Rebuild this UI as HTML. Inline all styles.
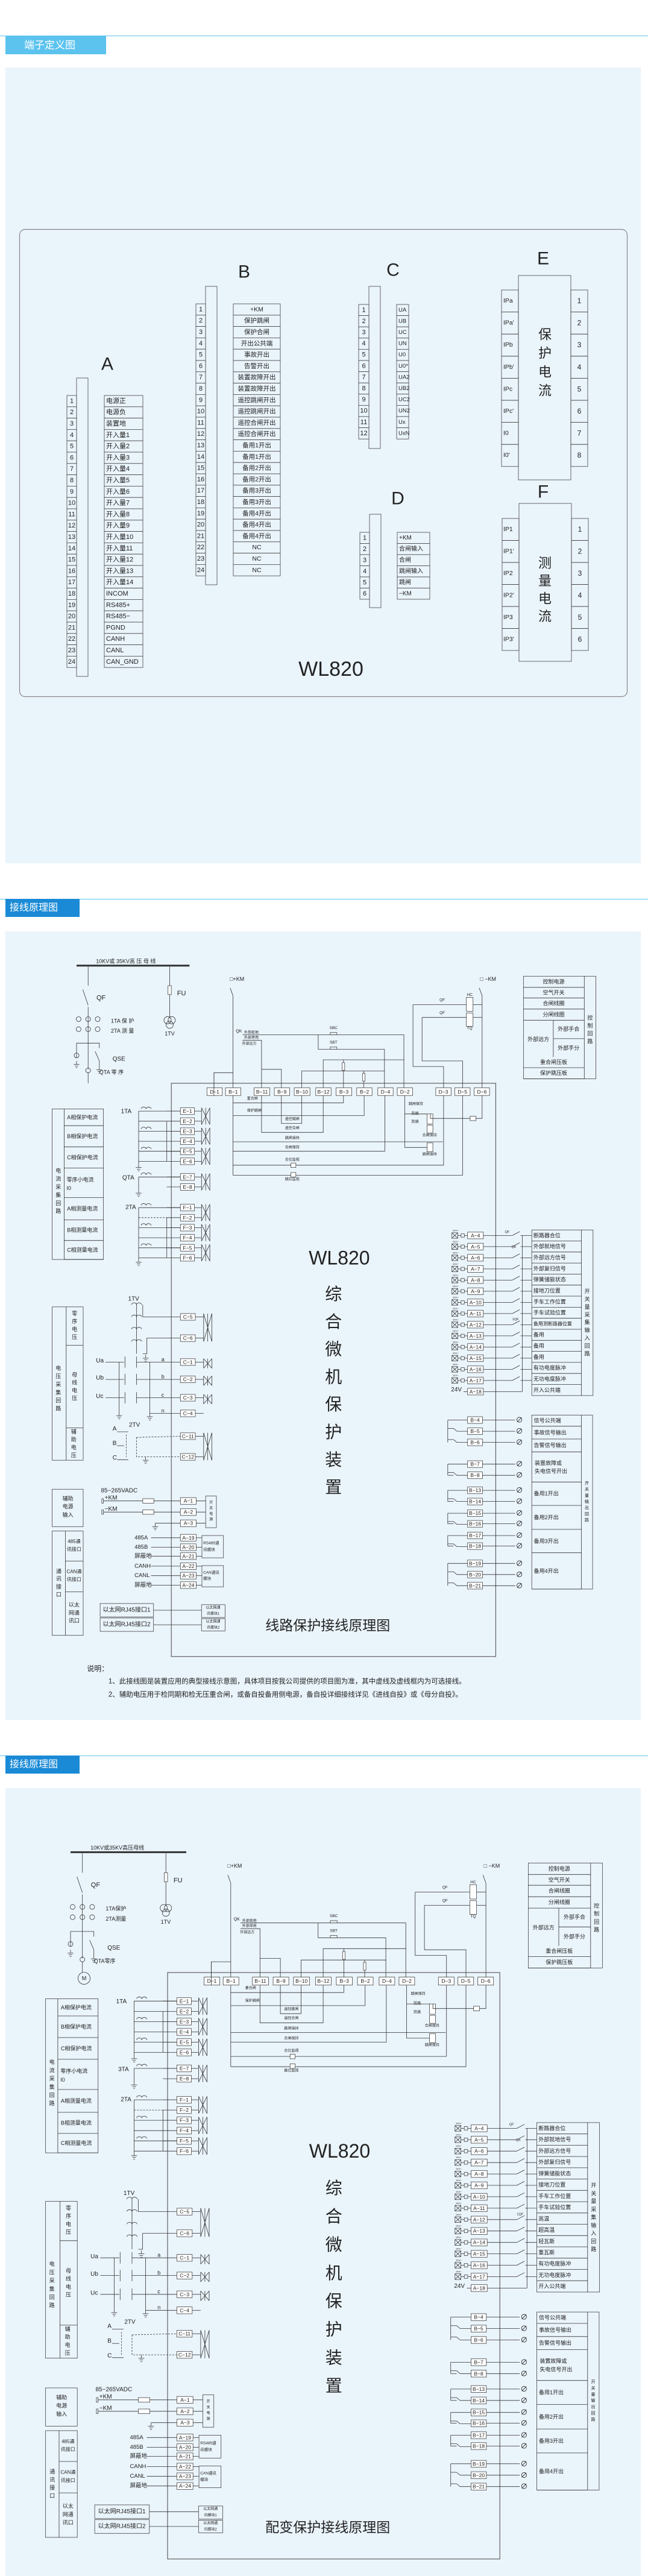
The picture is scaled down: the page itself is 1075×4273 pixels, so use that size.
<!DOCTYPE html>
<html><head><meta charset="utf-8"><style>
html,body{margin:0;padding:0;background:#fff}
svg{display:block}
text{font-family:"Liberation Sans","Noto Sans CJK SC",sans-serif;fill:#222}
</style></head><body>
<svg id="s" xmlns="http://www.w3.org/2000/svg" width="1075" height="4273" viewBox="0 0 1075 4273"></svg>
<script>
var out=[];var T=function(x,y){return [x,y];};
function f(v){return v.toFixed(1);}
function ln(x1,y1,x2,y2,w,d){var a=T(x1,y1),b=T(x2,y2);out.push('<line x1="'+f(a[0])+'" y1="'+f(a[1])+'" x2="'+f(b[0])+'" y2="'+f(b[1])+'" stroke="#333" stroke-width="'+(w||0.8)+'"'+(d?' stroke-dasharray="3,2"':'')+'/>');}
function pl(pts,w,d){var s=[];for(var i=0;i<pts.length;i+=2){var a=T(pts[i],pts[i+1]);s.push(f(a[0])+','+f(a[1]));}out.push('<polyline points="'+s.join(' ')+'" fill="none" stroke="#333" stroke-width="'+(w||0.8)+'"'+(d?' stroke-dasharray="3,2"':'')+'/>');}
function rc(x1,y1,x2,y2,fill,w){var a=T(x1,y1),b=T(x2,y2);out.push('<rect x="'+f(Math.min(a[0],b[0]))+'" y="'+f(Math.min(a[1],b[1]))+'" width="'+f(Math.abs(b[0]-a[0]))+'" height="'+f(Math.abs(b[1]-a[1]))+'" fill="'+(fill||'none')+'" stroke="#444" stroke-width="'+(w||0.8)+'"/>');}
function tx(x,y,s,sz,anc,col){var a=T(x,y);out.push('<text x="'+f(a[0])+'" y="'+f(a[1])+'" font-size="'+sz+'" text-anchor="'+(anc||'start')+'" dominant-baseline="central"'+(col?' style="fill:'+col+'"':'')+'>'+s+'</text>');}
function vt(x,y,s,sz,step){for(var i=0;i<s.length;i++)tx(x,y+i*step,s[i],sz,'middle');}
function ci(x,y,r){var a=T(x,y);out.push('<circle cx="'+f(a[0])+'" cy="'+f(a[1])+'" r="'+r+'" fill="none" stroke="#333" stroke-width="0.8"/>');}
function term(x1,x2,y,lab,h){h=h||12;rc(x1,y-h/2,x2,y+h/2,'#fff');tx((x1+x2)/2,y,lab,8.5,'middle');}
function bt(x,y1,y2){ln(x,y1-6,x,y2+6);ln(x+20,y1-6,x+20,y2+6);ln(x,y1-6,x+20,y2+6);ln(x,y2+6,x+20,y1-6);ln(x+10,y1-6,x+10,y2+6);}
function ct(x,y){var a=T(x-12,y),b=T(x,y),c=T(x+12,y);out.push('<path d="M'+f(a[0])+','+f(a[1])+' A4,3 0 0 1 '+f(b[0])+','+f(b[1])+' A4,3 0 0 1 '+f(c[0])+','+f(c[1])+'" fill="none" stroke="#333" stroke-width="0.8"/>');}
function gnd(x,y){ln(x,y,x,y+6);ln(x-7,y+6,x+7,y+6);ln(x-4,y+9,x+4,y+9);ln(x-2,y+12,x+2,y+12);}

/* ---------- headers & panels ---------- */
out.push('<line x1="0" y1="59.5" x2="1075" y2="59.5" stroke="#5cc3ee" stroke-width="1"/>');
out.push('<rect x="9" y="59" width="167" height="31" fill="#5cc3ee"/>');
out.push('<text x="40" y="75" font-size="17" dominant-baseline="central" style="fill:#fff">端子定义图</text>');
out.push('<rect x="9" y="112" width="1054" height="1320" fill="#eaf4fb"/>');
out.push('<line x1="0" y1="1491.5" x2="1075" y2="1491.5" stroke="#5cc3ee" stroke-width="1"/>');
out.push('<rect x="9" y="1491" width="123" height="30" fill="#1a8ad6"/>');
out.push('<text x="16" y="1506" font-size="16" dominant-baseline="central" style="fill:#fff">接线原理图</text>');
out.push('<rect x="9" y="1545" width="1054" height="1308" fill="#eaf4fb"/>');
out.push('<line x1="0" y1="2912.5" x2="1075" y2="2912.5" stroke="#5cc3ee" stroke-width="1"/>');
out.push('<rect x="9" y="2912" width="123" height="30" fill="#1a8ad6"/>');
out.push('<text x="16" y="2927" font-size="16" dominant-baseline="central" style="fill:#fff">接线原理图</text>');
out.push('<rect x="9" y="2966" width="1054" height="1307" fill="#eaf4fb"/>');

/* ---------- section 1 ---------- */
out.push('<rect x="32.5" y="380.5" width="1008" height="775" rx="9" fill="none" stroke="#888" stroke-width="1.2"/>');
function col(nx1,nx2,bx2,by1,by2,ry,rh,n,lx1,lx2,labs,lsz,lanc){
 rc(nx2,by1,bx2,by2,'#eaf4fb');
 for(var i=0;i<n;i++){var y=ry+i*rh;rc(nx1,y,nx2,y+rh,'#eaf4fb');tx((nx1+nx2)/2,y+rh/2,String(i+1),11,'middle');
  if(labs){rc(lx1,y,lx2,y+rh,'#eaf4fb');tx(lanc=='middle'?(lx1+lx2)/2:lx1+3,y+rh/2,labs[i],lsz,lanc);}}
}
var A=['电源正','电源负','装置地'];for(var i=1;i<=14;i++)A.push('开入量'+i);A=A.concat(['INCOM','RS485+','RS485−','PGND','CANH','CANL','CAN_GND']);
col(111,127,146,627,1122,656,18.8,24,173,237,A,11,'start');
var B=['+KM','保护跳闸','保护合闸','开出公共端','事故开出','告警开出','装置故障开出','装置故障开出','遥控跳闸开出','遥控跳闸开出','遥控合闸开出','遥控合闸开出','备用1开出','备用1开出','备用2开出','备用2开出','备用3开出','备用3开出','备用4开出','备用4开出','备用4开出','NC','NC','NC'];
col(325,341,360,475,970,504,18.8,24,387,465,B,10.5,'middle');
col(595,612,631,475,744,505,18.6,12,658,678,['UA','UB','UC','UN','U0','U0*','UA2','UB2','UC2','UN2','Ux','UxN'],9.5,'start');
col(597,613,632,853,1008,883,18.5,6,659,713,['+KM','合闸输入','合闸','跳闸输入','跳闸','−KM'],10,'start');
rc(860,457,947,796,'#eaf4fb');
var EL=['IPa',"IPa'",'IPb',"IPb'",'IPc',"IPc'",'I0',"I0'"];
for(var i=0;i<8;i++){var y=481+i*36.6;rc(832,y,860,y+36.6);rc(947,y,975,y+36.6);tx(835,y+18,EL[i],10.5);tx(961,y+18,String(i+1),12,'middle');}
vt(904,555,'保护电流',22,31);
rc(861,835,948,1097,'#eaf4fb');
var FL=['IP1',"IP1'",'IP2',"IP2'",'IP3',"IP3'"];
for(var i=0;i<6;i++){var y=860+i*36.5;rc(833,y,861,y+36.5);rc(948,y,976,y+36.5);tx(835,y+18,FL[i],10.5);tx(962,y+18,String(i+1),12,'middle');}
vt(904,934,'测量电流',22,29.5);
tx(178,604,'A',30,'middle');tx(405,451,'B',30,'middle');tx(652,448,'C',30,'middle');tx(660,827,'D',30,'middle');tx(901,429,'E',30,'middle');tx(901,816,'F',30,'middle');
tx(549,1110,'WL820',34,'middle');

/* ---------- wiring diagram ---------- */
function diagram(v){
 // bus & primary
 ln(185,164,458,164,3);
 tx(232,156,v==2?'10KV或 35KV高 压 母 线':'10KV或35KV高压母线',9);
 ln(213,166,213,200);ln(200,207,213,235);ln(213,238,213,350);
 [260,278].forEach(function(y){[190,213,236].forEach(function(x){ci(x,y,4);});});
 tx(233,222,'QF',11);tx(268,263,v==2?'1TA 保 护':'1TA保护',9);tx(268,281,v==2?'2TA 测 量':'2TA测量',9);
 pl([185,330,185,303,240,303,240,312]);ln(230,318,240,335);ln(240,335,240,345);gnd(240,345);ci(185,325,4);gnd(185,335);
 tx(272,332,'QSE',10);ci(213,352,4);tx(240,355,v==2?'QTA 零 序':'QTA零序',9);ln(213,356,213,375);
 if(v==3){ci(217,385,10);tx(217,385,'M',9,'middle');}
 ln(410,166,410,258);rc(406,200,414,216,'#fff');tx(428,214,'FU',11);ci(405,262,6);ci(415,262,6);ci(410,270,6);tx(398,286,'1TV',9);
 // KM
 tx(555,188,'□+KM',9);ln(556,204,563,218);ln(563,218,563,390);
 tx(1160,188,'□ −KM',9);ln(1158,204,1165,218);ln(1165,218,1165,390);
 // control loop top
 tx(570,282,'QK',7);tx(590,285,'外部就地',6);tx(590,294,'外部停用',6);tx(585,305,'外部远方',6);
 pl([586,288,976,288,976,383]);pl([586,298,632,298,632,383]);pl([632,350,680,350,680,383]);
 pl([769,288,769,314,929,314,929,383]);tx(806,276,'SBC',6.5,'middle');tx(806,302,'SBT',6.5,'middle');
 rc(798,284,814,288,'#eaf4fb');rc(798,310,814,314,'#eaf4fb');
 pl([781,383,781,333,977,333]);pl([729,383,729,353,930,353]);
 ln(830,333,830,383);rc(827,338,833,352,'#fff');ln(879,353,879,383);rc(876,357,882,371,'#fff');
 pl([517,383,517,356,563,356]);
 // breaker coils
 rc(1127,221,1143,246,'#fff');rc(1127,249,1143,273,'#fff');tx(1135,217,'HC',6.5,'middle');tx(1135,277,'TQ',6.5,'middle');
 ln(998,234,1127,234);ln(1020,257,1127,257);ln(1143,234,1165,234);ln(1143,257,1165,257);
 tx(1062,226,'QF',6.5);tx(1062,249,'QF',6.5);
 pl([998,234,998,345,1072,345,1072,383]);pl([1020,257,1020,335,1118,335,1118,383]);
 // main box
 rc(414,375,1198,1403,'none',1);
 var top=[['D−1',500,537],['B−1',545,582],['B−11',614,652],['B−9',663,700],['B−10',711,749],['B−12',763,800],['B−3',812,850],['B−2',862,899],['D−4',913,950],['D−2',960,997],['D−3',1053,1090],['D−5',1099,1136],['D−6',1146,1183]];
 top.forEach(function(t){term(t[1],t[2],390,t[0],14);});
 // internal control wiring
 ln(563,397,563,540);ln(517,397,517,356);
 ln(563,410,830,410);ln(830,397,830,410);tx(597,403,'重合闸',6);
 ln(563,433,880,433);ln(880,397,880,433);tx(597,425,'保护跳闸',6);
 pl([632,397,632,463,781,463,781,397]);pl([680,397,680,447,729,447,729,397]);
 tx(706,440,'遥控跳闸',6,'middle');tx(706,456,'遥控合闸',6,'middle');
 ln(563,480,1070,480);tx(706,474,'跳闸保持',6,'middle');ln(563,497,930,497);ln(930,397,930,497);tx(706,491,'合闸保持',6,'middle');
 ln(563,522,1072,522);ln(1072,397,1072,522);ln(563,540,1118,540);ln(1118,397,1118,540);tx(706,513,'合位监视',6,'middle');tx(706,548,'跳位监视',6,'middle');
 rc(703,518,715,526,'#fff');rc(703,535,715,543,'#fff');
 pl([978,397,978,490,1032,490]);rc(1032,430,1046,448,'#fff');rc(1032,450,1046,464,'#fff');rc(1032,482,1046,498,'#fff');
 tx(1005,413,'跳闸保持',6,'middle');tx(1003,430,'防跳',6,'middle');tx(1003,445,'防跳',6,'middle');tx(1038,469,'合闸保持',6,'middle');tx(1038,503,'跳闸保持',6,'middle');
 pl([1165,397,1165,438,1040,438,1040,430]);rc(1136,434,1150,442,'#fff');ln(978,430,1032,430);
 // current inputs
 var E=[['E−1',425],['E−2',443],['E−3',461],['E−4',479],['E−5',497],['E−6',515],['E−7',543],['E−8',561],['F−1',598],['F−2',616],['F−3',634],['F−4',652],['F−5',670],['F−6',688]];
 E.forEach(function(e){term(436,470,e[1],e[0]);ln(403,e[1],436,e[1]);ln(470,e[1],487,e[1]);});
 for(var i=0;i<14;i+=2)bt(487,E[i][1],E[i+1][1]);
 tx(305,426,'1TA',10,'middle');tx(310,545,v==2?'QTA':'3TA',10,'middle');tx(316,598,'2TA',10,'middle');
 [[425,443],[461,479],[497,515],[543,561],[598,616],[634,652],[670,688]].forEach(function(p,k){
  var cy=p[0]-4;ct(353,cy);ln(335,p[0],436,p[0]);ln(365,p[0],365,p[0]);ln(403,p[1],403,p[1]);});
 ln(335,425,335,520);gnd(335,520);ln(335,543,335,566);gnd(335,566);ln(335,598,335,690);gnd(335,690);
 ln(403,443,403,515);ln(403,561,403,561);ln(403,616,403,688);
 [443,479,515].forEach(function(y){ln(335,y,403,y);});
 ln(335,616,403,616,0.8,1);ln(335,652,403,652);ln(335,688,403,688);
 // voltage
 tx(323,762,'1TV',10,'middle');
 var C=[['C−5',794],['C−6',832],['C−1',875],['C−2',906],['C−3',939],['C−4',967],['C−11',1008],['C−12',1045]];
 C.forEach(function(c){term(436,472,c[1],c[0]);ln(472,c[1],492,c[1]);});
 bt(492,794,832);bt(492,875,880);bt(492,906,911);bt(492,939,944);bt(492,1008,1045);
 for(var y=772;y<860;y+=22){ct(330,y);}
 pl([345,772,345,794,436,794]);pl([345,860,355,860,355,832,436,832]);gnd(352,862);
 ln(330,770,330,860);
 [['Ua',875],['Ub',906],['Uc',939]].forEach(function(u){tx(232,u[1]-2,u[0],10);ln(255,u[1],300,u[1]);ln(302,u[1]-10,302,u[1]+10);ln(330,u[1]-10,330,u[1]+10);ln(330,u[1],436,u[1]);});
 tx(390,870,'a',9);tx(390,901,'b',9);tx(390,934,'c',9);tx(390,962,'n',9);ln(362,967,436,967);ln(362,875,362,967);gnd(362,967);ln(288,875,288,965);gnd(288,965);
 tx(325,988,'2TV',10,'middle');tx(272,995,'A',10);tx(272,1021,'B',10);tx(272,1047,'C',10);
 ln(283,1000,310,1000);ln(283,1025,300,1025);ln(283,1050,310,1050);ln(305,1005,305,1045,0.8,1);
 pl([330,1010,436,1008],0.8,1);pl([330,1010,330,1045,436,1045],0.8,1);gnd(352,1045);
 // aux power
 tx(244,1106,'85−265VADC',10);tx(253,1119,'+KM',10);tx(253,1139,'−KM',10);
 rc(246,1120,250,1128);rc(246,1140,250,1148);
 ln(250,1124,436,1124);rc(345,1120,372,1128,'#fff');ln(250,1144,436,1144);rc(345,1140,372,1148,'#fff');
 ln(375,1164,436,1164);gnd(375,1164);
 [['A−1',1124],['A−2',1144],['A−3',1164]].forEach(function(a){term(436,474,a[1],a[0]);ln(474,a[1],497,a[1]);});
 rc(497,1115,523,1172);vt(510,1128,'开关电源',6,10);
 [['485A',1190,'A−19'],['485B',1207,'A−20'],['屏蔽地',1223,'A−21'],['CANH',1241,'A−22'],['CANL',1258,'A−23'],['屏蔽地',1275,'A−24']].forEach(function(a){tx(325,a[1],a[0],9.5);ln(365,a[1],436,a[1]);term(436,474,a[1],a[2]);ln(474,a[1],488,a[1]);});
 rc(488,1186,540,1226);tx(491,1200,'RS485通',6.5);tx(491,1212,'讯模块',6.5);
 rc(488,1240,540,1278);tx(491,1253,'CAN通讯',6.5);tx(491,1264,'模块',6.5);
 rc(242,1308,371,1332);tx(306,1320,'以太网RJ45接口1',10,'middle');rc(242,1334,371,1358);tx(306,1346,'以太网RJ45接口2',10,'middle');
 ln(371,1320,487,1320);ln(371,1346,487,1346);
 rc(487,1310,544,1333);tx(515,1316,'以太网通',6,'middle');tx(515,1327,'讯模块1',6,'middle');
 rc(487,1335,544,1357);tx(515,1341,'以太网通',6,'middle');tx(515,1352,'讯模块2',6,'middle');
 // left group boxes
 rc(126,421,250,691);ln(155,421,155,691);
 var cur=[['A相保护电流',421,451],['B相保护电流',451,489],['C相保护电流',489,527],['零序小电流',527,580],['A相测量电流',580,620],['B相测量电流',620,657],['C相测量电流',657,691]];
 cur.forEach(function(c,k){ln(155,c[2],250,c[2]);if(k==3){tx(161,548,c[0],9);tx(161,563,'I0',9);}else tx(162,(c[1]+c[2])/2,c[0],9);});
 vt(141,532,'电流采集回路',9,14.5);
 rc(126,776,201,1051);ln(160,776,160,1051);ln(160,845,201,845);ln(160,993,201,993);
 vt(141,886,'电压采集回路',9,14.5);vt(180,788,'零序电压',9,14);vt(180,898,'母线电压',9,14);vt(178,1000,'辅助电压',9,14);
 rc(126,1103,201,1170);tx(164,1120,'辅助',9,'middle');tx(164,1134,'电源',9,'middle');tx(164,1149,'输入',9,'middle');
 rc(126,1178,201,1365);ln(158,1178,158,1365);ln(158,1232,201,1232);ln(158,1287,201,1287);
 vt(142,1250,'通讯接口',9,14);tx(179,1197,'485通',8,'middle');tx(179,1211,'讯接口',8,'middle');tx(179,1251,'CAN通',8,'middle');tx(179,1265,'讯接口',8,'middle');
 tx(179,1310,'以太',9,'middle');tx(179,1325,'网通',9,'middle');tx(179,1339,'讯口',9,'middle');
 // right inputs
 for(var i=0;i<15;i++){var y=648+i*20;term(1130,1168,y,'A−'+(i+4));
  if(i<14){rc(1092,y-5,1106,y+5);ln(1092,y-5,1106,y+5);ln(1092,y+5,1106,y-5);tx(1094,y-9,'24V+',4);rc(1114,y-3,1122,y+3);ln(1106,y,1114,y);ln(1122,y,1130,y);
   ln(1168,y,1238,y);ln(1238,y,1256,y-7);ln(1258,y,1285,y);}
  else{tx(1090,y-3,'24V',10);ln(1120,y,1130,y);ln(1168,y,1262,y);}}
 ln(1262,648,1262,928);tx(1220,642,'QF',5.5);tx(1236,669,'QK',5.5);tx(1238,799,'1QF',5.5);
 rc(1285,638,1433,935);ln(1405,638,1405,935);
 var IN=v==2?['断路器合位','外部就地信号','外部远方信号','外部复归信号','弹簧储能状态','接地刀位置','手车工作位置','手车试验位置','备用测断路器位置','备用','备用','备用','有功电度脉冲','无功电度脉冲','开入公共端']:['断路器合位','外部就地信号','外部远方信号','外部复归信号','弹簧储能状态','接地刀位置','手车工作位置','手车试验位置','高温','超高温','轻瓦斯','重瓦斯','有功电度脉冲','无功电度脉冲','开入公共端'];
 for(var i=0;i<15;i++){var y=638+i*19.8;if(i)ln(1285,y,1405,y);tx(1289,y+10,IN[i],i==8&&v==2?8:9);}
 vt(1419,748,'开关量采集输入回路',9,14);
 // outputs
 var O=[['B−4',979],['B−5',999],['B−6',1019],['B−7',1058],['B−8',1078],['B−13',1105],['B−14',1125],['B−15',1146],['B−16',1165],['B−17',1186],['B−18',1205],['B−19',1236],['B−20',1256],['B−21',1276]];
 O.forEach(function(o){term(1130,1166,o[1],o[0]);ln(1166,o[1],1245,o[1]);tx(1255,o[1],'∅',12,'middle');});
 [[979,1019],[1058,1078],[1105,1125],[1146,1165],[1186,1205],[1236,1276]].forEach(function(g){
  ln(1082,g[0],1082,g[1]);ln(1082,g[0],1130,g[0]);
  for(var y=g[0]+20;y<=g[1]+1;y+=20){ln(1082,y-5,1096,y-5);ln(1096,y-5,1104,y);ln(1104,y,1130,y);}
  if(g[1]-g[0]<21){ln(1082,g[1],1096,g[1]);}});
 rc(1285,970,1432,1282);ln(1405,970,1405,1282);
 [[970,990,'信号公共端'],[990,1013,'事故信号输出'],[1013,1036,'告警信号输出'],[1036,1090,''],[1090,1132,'备用1开出'],[1132,1175,'备用2开出'],[1175,1217,'备用3开出'],[1217,1282,'备用4开出']].forEach(function(r){ln(1285,r[1],1405,r[1]);if(r[2])tx(1290,(r[0]+r[1])/2,r[2],9);});
 tx(1292,1056,'装置故障或',9);tx(1292,1071,'失电信号开出',9);
 vt(1418,1093,'开关量输出回路',7,11);
 // control table
 rc(1265,183,1440,367);ln(1412,183,1412,367);
 [[183,203,'控制电源'],[203,222,'空气开关'],[222,242,'合闸线圈'],[242,262,'分闸线圈'],[328,347,'重合闸压板'],[347,367,'保护跳压板']].forEach(function(r){ln(1265,r[1],1412,r[1]);tx(1338,(r[0]+r[1])/2,r[2],9,'middle');});
 ln(1337,262,1337,328);ln(1337,295,1412,295);tx(1301,296,'外部远方',9,'middle');tx(1374,278,'外部手合',9,'middle');tx(1374,312,'外部手分',9,'middle');
 vt(1426,258,'控制回路',9,14);
 // centre texts
 tx(820,688,'WL820',32,'middle');
 vt(806,753,'综合微机保护装置',28,49.5);
 tx(792,1347,v==2?'线路保护接线原理图':'配变保护接线原理图',23,'middle');
 if(v==2){tx(210,1425,'说明：',12);
  tx(262,1448,'1、此接线图是装置应用的典型接线示意图，具体项目按我公司提供的项目图为准，其中虚线及虚线框内为可选接线。',11.5);
  tx(262,1472,'2、辅助电压用于检同期和检无压重合闸，或备自投备用侧电源，备自投详细接线详见《进线自投》或《母分自投》。',11.5);}
}
T=function(x,y){return [0.6865*x,1450+0.925*y];};diagram(2);
T=function(x,y){var zx=1.0242*x-19,zy=1.0428*y+74;return [0.6865*zx,2850+0.9075*zy];};diagram(3);
document.getElementById('s').innerHTML=out.join('');
</script>
</body></html>
